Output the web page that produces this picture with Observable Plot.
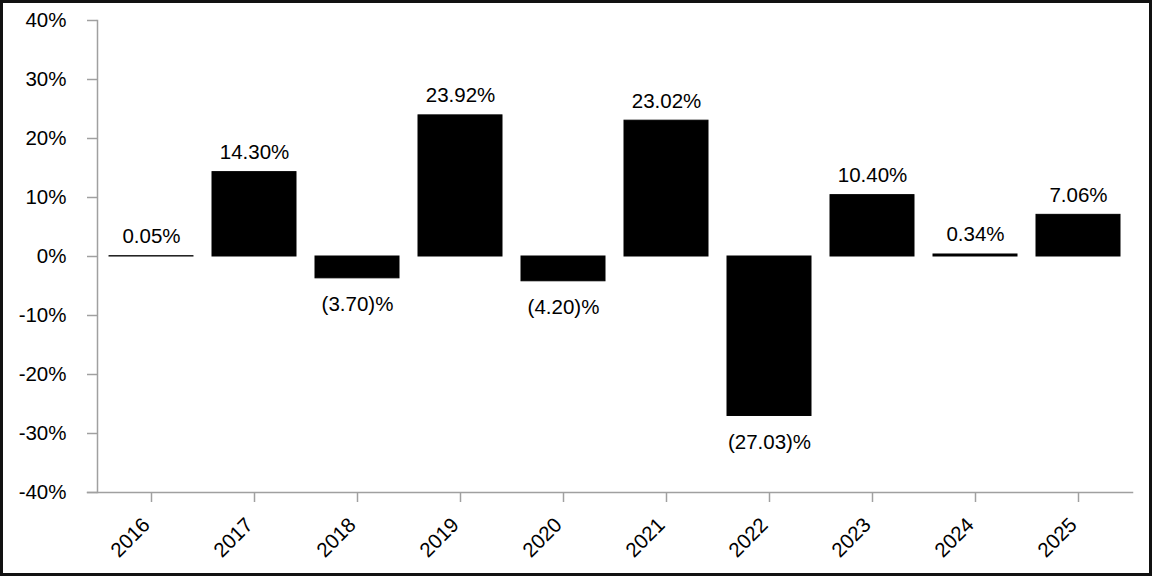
<!DOCTYPE html>
<html>
<head>
<meta charset="utf-8">
<script src="https://cdn.jsdelivr.net/npm/d3@7"></script>
<script src="https://cdn.jsdelivr.net/npm/@observablehq/plot@0.6"></script>
<style>
  html, body { margin: 0; padding: 0; background: #fff; }
  #chart { width: 1152px; height: 576px; box-sizing: border-box; border: 3px solid #111; overflow: hidden; }
  #chart svg { display: block; }
</style>
</head>
<body>
<div id="chart"></div>
<script>
const years = ["2016","2017","2018","2019","2020","2021","2022","2023","2024","2025"];
const returns = [0.05, 14.30, -3.70, 23.92, -4.20, 23.02, -27.03, 10.40, 0.34, 7.06];
const yTicks = [-40, -30, -20, -10, 0, 10, 20, 30, 40];

const data = years.map((y, i) => ({year: y, value: returns[i]}));
const fmt = v => v < 0 ? `(${Math.abs(v).toFixed(2)})%` : `${v.toFixed(2)}%`;
const axisGray = "#a0a0a0";
const fs = 20.5;

const chart = Plot.plot({
  width: 1146,
  height: 570,
  marginLeft: 94,
  marginRight: 17,
  marginTop: 17,
  marginBottom: 81,
  style: {fontFamily: "'Liberation Sans', Arial, sans-serif", fontSize: fs + "px", color: "#000", background: "#fff"},
  x: {domain: years, paddingInner: 0.18, paddingOuter: 0.09, label: null},
  y: {domain: [-40, 40], label: null},
  marks: [
    Plot.frame({anchor: "left", stroke: axisGray, strokeWidth: 1.5}),
    Plot.frame({anchor: "bottom", stroke: axisGray, strokeWidth: 1.5, insetLeft: -10}),
    Plot.axisY({ticks: yTicks, tickFormat: d => `${d}%`, tickSize: 10, tickPadding: 21, stroke: axisGray, fill: "#000", strokeWidth: 1.5, fontSize: fs}),
    Plot.axisX({tickSize: 10, text: null, stroke: axisGray, strokeWidth: 1.5}),
    Plot.axisX({tickSize: 0, tickPadding: 29, dx: -5, tickRotate: -45, fill: "#000", fontSize: fs}),
    Plot.barY(data, {x: "year", y: "value", fill: "#000", stroke: "#000", strokeWidth: 1}),
    Plot.text(data.filter(d => d.value >= 0), {x: "year", y: "value", text: d => fmt(d.value), lineAnchor: "bottom", dy: -13, fill: "#000", fontSize: fs}),
    Plot.text(data.filter(d => d.value < 0), {x: "year", y: "value", text: d => fmt(d.value), lineAnchor: "top", dy: 18, fill: "#000", fontSize: fs})
  ]
});
document.getElementById("chart").appendChild(chart);
</script>
</body>
</html>
